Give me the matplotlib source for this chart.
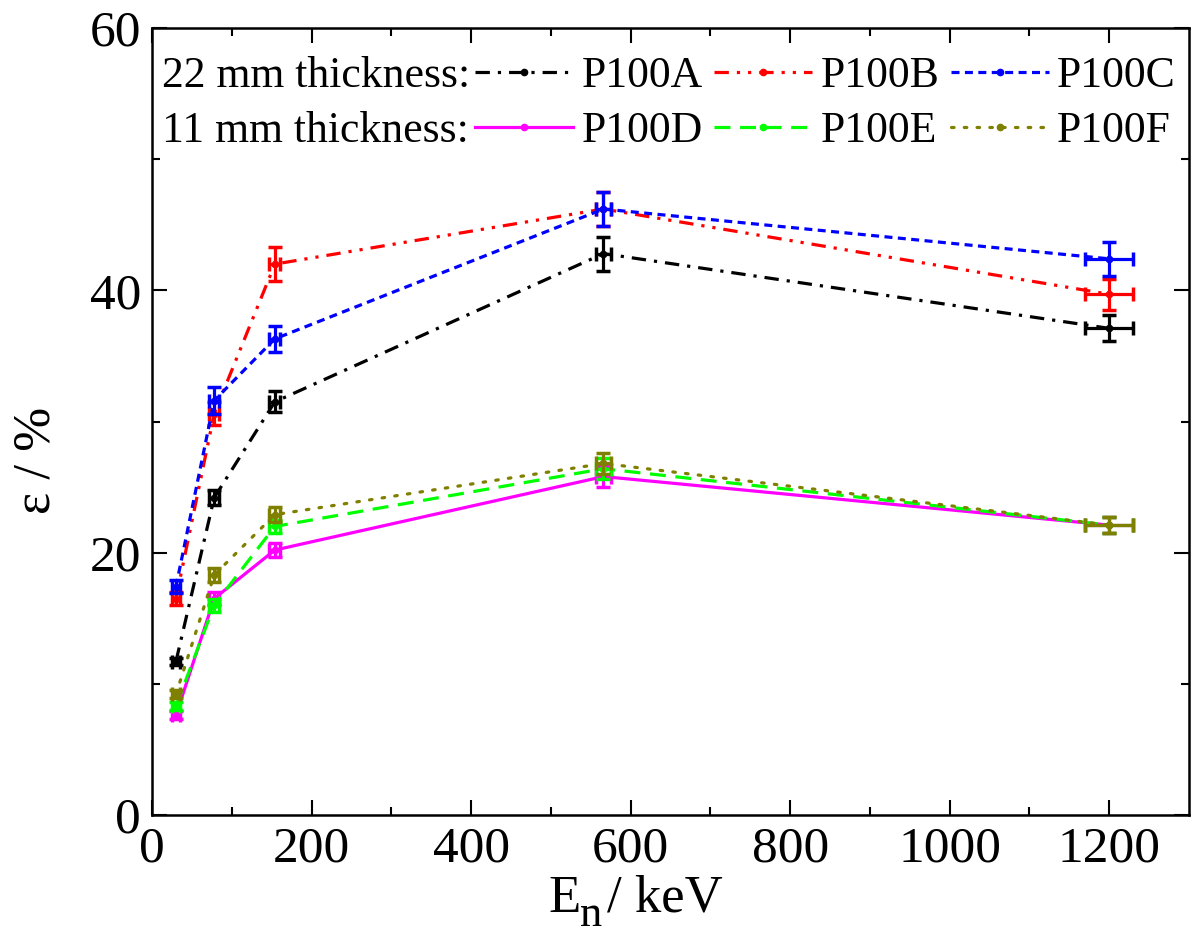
import matplotlib
matplotlib.use("Agg")
import matplotlib.pyplot as plt

plt.rcParams['font.family'] = ['Liberation Serif', 'DejaVu Serif']

energy = [30, 78, 154, 566, 1200]
energy_err = [5, 6, 7, 10, 30]

series_names = ["P100A", "P100B", "P100C", "P100D", "P100E", "P100F"]
eff_A = [11.7, 24.2, 31.5, 42.8, 37.1]
eff_B = [16.5, 30.6, 42.0, 46.2, 39.7]
eff_C = [17.4, 31.6, 36.3, 46.2, 42.4]
eff_D = [7.6, 16.5, 20.2, 25.8, 22.1]
eff_E = [8.3, 16.0, 22.0, 26.4, 22.1]
eff_F = [9.2, 18.3, 22.9, 26.8, 22.1]
err_A = [0.3, 0.6, 0.8, 1.3, 1.0]
err_B = [0.5, 0.9, 1.3, 1.3, 1.2]
err_C = [0.5, 1.0, 1.0, 1.3, 1.3]
err_D = [0.3, 0.5, 0.5, 0.8, 0.6]
err_E = [0.3, 0.5, 0.5, 0.8, 0.6]
err_F = [0.3, 0.5, 0.6, 0.8, 0.6]
row_labels = ["22 mm thickness:", "11 mm thickness:"]

values = [eff_A, eff_B, eff_C, eff_D, eff_E, eff_F]
errors = [err_A, err_B, err_C, err_D, err_E, err_F]
colors = ['#000000', '#FF0000', '#0000FF', '#FF00FF', '#00FF00', '#808000']
styles = [(0, (4.5, 2.5, 1, 2.5)), (0, (4.5, 2.5, 1, 2.5, 1, 2.5)), (0, (2.5, 1.7)),
          '-', (0, (5, 3)), (0, (0.8, 3.2))]

W, H = 1195, 934
fig = plt.figure(figsize=(W/100, H/100), dpi=100)
ax = fig.add_axes([152/W, 1-815/H, (1189-152)/W, (815-28)/H])

handles = []
for name, v, e, c, ls in zip(series_names, values, errors, colors, styles):
    line, = ax.plot(energy, v, color=c, linestyle=ls, linewidth=2.3,
                    marker='o', markersize=4.5, label=name,
                    dash_capstyle='round' if name == 'P100F' else 'butt')
    ax.errorbar(energy, v, yerr=e, xerr=energy_err, fmt='none', ecolor=c,
                elinewidth=2.3, capsize=5, capthick=2.5)
    handles.append(line)

ax.set_xlim(0, 1300)
ax.set_ylim(0, 60)
ax.set_xticks([0, 200, 400, 600, 800, 1000, 1200])
ax.set_xticks(range(100, 1300, 200), minor=True)
ax.set_yticks([0, 20, 40, 60])
ax.set_yticks([10, 30, 50], minor=True)
ax.tick_params(which='both', direction='in', top=True, right=True,
               labelsize=37, width=1.5)
ax.tick_params(which='major', length=11, pad=8)
ax.tick_params(which='minor', length=6)
for s in ax.spines.values():
    s.set_linewidth(1.8)

# axis labels placed explicitly (subscript sits well below the baseline)
fig.text(548/W, 1-912/H, 'E', fontsize=38, ha='left', va='baseline')
fig.text(580/W, 1-926/H, 'n', fontsize=32, ha='left', va='baseline')
fig.text(607/W, 1-912/H, '/ keV', fontsize=38, ha='left', va='baseline')
fig.text(36/W, 1-460/H, 'ε / %', fontsize=38, rotation=90, ha='center', va='center')

order = [0, 3, 1, 4, 2, 5]
leg = ax.legend([handles[i] for i in order], [series_names[i] for i in order],
                ncol=3, loc='upper left', bbox_to_anchor=(475/W, 1-56/H),
                bbox_transform=fig.transFigure, frameon=False, fontsize=31.5,
                handlelength=2.24, handletextpad=0.2, columnspacing=0.25,
                borderpad=0, borderaxespad=0, labelspacing=0.35)

fig.canvas.draw()
r = fig.canvas.get_renderer()
texts = leg.get_texts()
for i, lab in enumerate(row_labels):
    bb = texts[i].get_window_extent(r)
    yc = (bb.y0 + bb.y1) / 2 / fig.bbox.height
    fig.text(162/W, yc, lab, fontsize=31.5, va='center', ha='left')

fig.savefig('out.png', dpi=100)
